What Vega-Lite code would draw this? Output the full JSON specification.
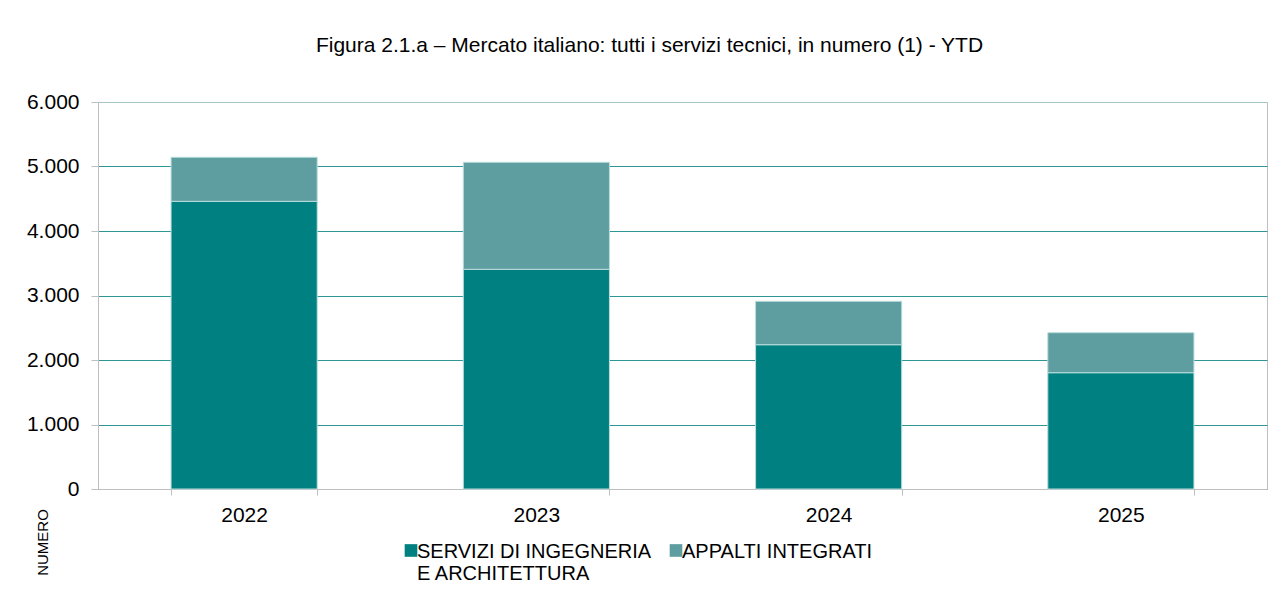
{
  "$schema": "https://vega.github.io/schema/vega-lite/v6.json",
  "width": 1169,
  "height": 387,
  "autosize": "none",
  "padding": {"left": 98, "top": 102, "right": 18, "bottom": 108},
  "background": "white",
  "config": {
    "locale": {"number": {"decimal": ",", "thousands": ".", "grouping": [3], "currency": ["€", ""]}},
    "font": "Liberation Sans",
    "view": {"stroke": "#bfbfbf", "strokeWidth": 1}
  },
  "title": {
    "text": "Figura 2.1.a – Mercato italiano: tutti i servizi tecnici, in numero (1) - YTD",
    "fontSize": 21,
    "fontWeight": "normal",
    "color": "#000000",
    "font": "Liberation Sans",
    "anchor": "middle",
    "dx": -33,
    "offset": 35
  },
  "data": {
    "values": [
      {"anno": "2022", "serie": "SERVIZI DI INGEGNERIA E ARCHITETTURA", "k": 1, "numero": 4460},
      {"anno": "2022", "serie": "APPALTI INTEGRATI", "k": 2, "numero": 683},
      {"anno": "2023", "serie": "SERVIZI DI INGEGNERIA E ARCHITETTURA", "k": 1, "numero": 3406},
      {"anno": "2023", "serie": "APPALTI INTEGRATI", "k": 2, "numero": 1659},
      {"anno": "2024", "serie": "SERVIZI DI INGEGNERIA E ARCHITETTURA", "k": 1, "numero": 2237},
      {"anno": "2024", "serie": "APPALTI INTEGRATI", "k": 2, "numero": 673},
      {"anno": "2025", "serie": "SERVIZI DI INGEGNERIA E ARCHITETTURA", "k": 1, "numero": 1803},
      {"anno": "2025", "serie": "APPALTI INTEGRATI", "k": 2, "numero": 620}
    ]
  },
  "mark": {"type": "bar", "stroke": "#b8dcdc", "strokeWidth": 1},
  "encoding": {
    "x": {
      "field": "anno",
      "type": "nominal",
      "scale": {"paddingInner": 0.5, "paddingOuter": 0.25},
      "axis": {
        "title": null,
        "labelAngle": 0,
        "labelFontSize": 21,
        "labelColor": "#000000",
        "labelPadding": 9,
        "domainColor": "#bfbfbf",
        "tickColor": "#bfbfbf",
        "tickSize": 6,
        "tickBand": "extent",
        "grid": false
      }
    },
    "y": {
      "field": "numero",
      "type": "quantitative",
      "aggregate": "sum",
      "stack": "zero",
      "scale": {"domain": [0, 6000], "nice": false},
      "axis": {
        "values": [0, 1000, 2000, 3000, 4000, 5000, 6000],
        "format": ",d",
        "labelFontSize": 21,
        "labelColor": "#000000",
        "labelPadding": 12,
        "domainColor": "#bfbfbf",
        "tickColor": "#bfbfbf",
        "tickSize": 7,
        "gridColor": {"condition": {"test": "datum.value == 6000", "value": "#a6c4c4"}, "value": "#2f9696"},
        "gridWidth": 1,
        "title": "NUMERO",
        "titleFontSize": 15,
        "titleFontWeight": "normal",
        "titleColor": "#000000",
        "titleAngle": 270,
        "titleX": -56,
        "titleY": 440,
        "titleAlign": "center",
        "titleBaseline": "middle"
      }
    },
    "color": {
      "field": "serie",
      "type": "nominal",
      "scale": {
        "domain": ["SERVIZI DI INGEGNERIA E ARCHITETTURA", "APPALTI INTEGRATI"],
        "range": ["#008080", "#5f9ea0"]
      },
      "legend": {
        "orient": "none",
        "legendX": 303,
        "legendY": 430,
        "direction": "horizontal",
        "title": null,
        "padding": 0,
        "symbolType": "M-1,0.34H1V2.34H-1Z",
        "symbolSize": 160,
        "symbolStrokeWidth": 0,
        "labelFontSize": 20,
        "labelColor": "#000000",
        "labelLimit": 500,
        "labelOffset": -4,
        "labelBaseline": "top",
        "labelLineHeight": 24,
        "columnPadding": 14,
        "labelExpr": "datum.label == 'SERVIZI DI INGEGNERIA E ARCHITETTURA' ? ['SERVIZI DI INGEGNERIA', 'E ARCHITETTURA'] : ['APPALTI INTEGRATI', ' ']"
      }
    },
    "order": {"field": "k", "type": "quantitative"}
  }
}
